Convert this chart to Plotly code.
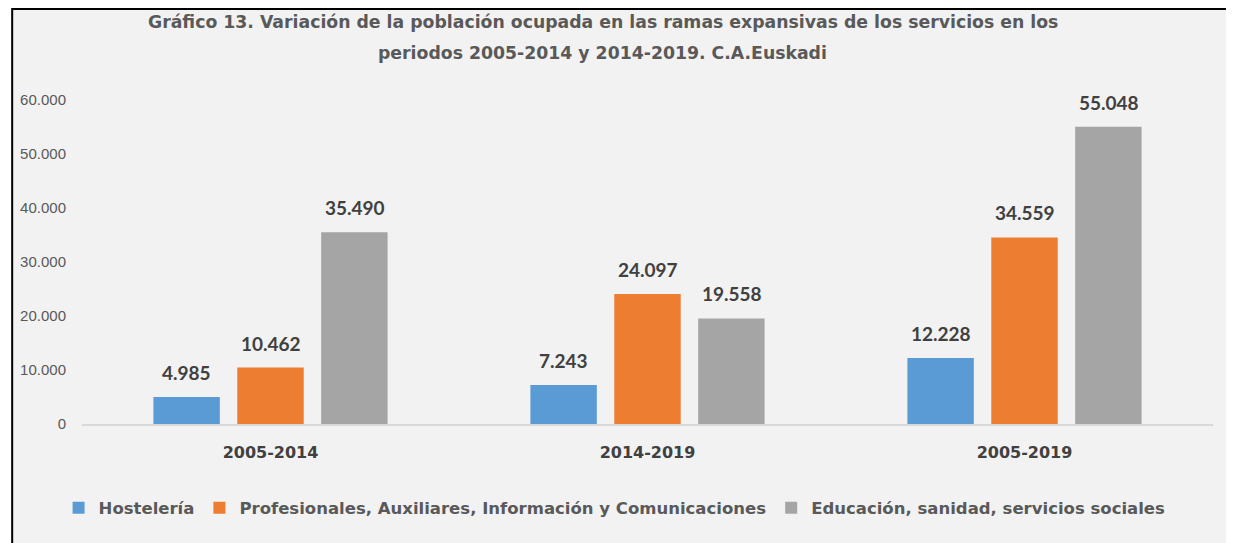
import plotly.graph_objects as go

categories = ["2005-2014", "2014-2019", "2005-2019"]
series_names = [
    "Hostelería",
    "Profesionales, Auxiliares, Información y Comunicaciones",
    "Educación, sanidad, servicios sociales",
]
hosteleria = [4985, 7243, 12228]
profesionales = [10462, 24097, 34559]
educacion = [35490, 19558, 55048]
y_ticks = [0, 10000, 20000, 30000, 40000, 50000, 60000]

series_values = [hosteleria, profesionales, educacion]
colors = ["#5B9BD5", "#ED7D31", "#A5A5A5"]

WIDE = "DejaVu Sans"
W, H = 1226, 535          # page body has an 8px margin
ML, MR, MT, MB = 71, 21, 92, 119
PW = W - ML - MR
PH = H - MT - MB

def px_to_paper_x(px):
    return (px - ML) / PW

def px_to_paper_y(py):
    return (H - MB - py) / PH

fig = go.Figure()
for i, (name, vals, col) in enumerate(zip(series_names, series_values, colors)):
    fig.add_trace(go.Bar(
        name=name, x=categories, y=vals,
        marker=dict(color=col, line=dict(width=0)),
    ))

def fmt(v):
    return f"{v:,}".replace(",", ".")

annotations = []
for i, vals in enumerate(series_values):
    for c, v in zip(categories, vals):
        annotations.append(dict(
            x=c, y=v, xref="x", yref="y", text=fmt(v), showarrow=False,
            yanchor="bottom", xanchor="center", xshift=(i - 1) * 84, yshift=11,
            font=dict(family="Lato", size=19, color="#404040", weight="bold"),
        ))

annotations.append(dict(
    text="Gráfico 13. Variación de la población ocupada en las ramas expansivas de los servicios en los",
    xref="paper", yref="paper", x=px_to_paper_x(593), y=px_to_paper_y(14),
    xanchor="center", yanchor="middle", showarrow=False,
    font=dict(family=WIDE, size=17.3, color="#595959", weight="bold"),
))
annotations.append(dict(
    text="periodos 2005-2014 y 2014-2019. C.A.Euskadi",
    xref="paper", yref="paper", x=px_to_paper_x(593), y=px_to_paper_y(45),
    xanchor="center", yanchor="middle", showarrow=False,
    font=dict(family=WIDE, size=17.3, color="#595959", weight="bold"),
))

shapes = [dict(
    type="rect", xref="paper", yref="paper", layer="below",
    x0=px_to_paper_x(1), x1=px_to_paper_x(1223),
    y0=px_to_paper_y(545), y1=px_to_paper_y(1),
    fillcolor="#F2F2F2", line=dict(color="#000000", width=2),
)]

fig.update_layout(
    width=W, height=H,
    margin=dict(l=ML, r=MR, t=MT, b=MB),
    paper_bgcolor="#FFFFFF",
    plot_bgcolor="rgba(0,0,0,0)",
    separators=",.",
    barmode="group",
    bargap=0.3325,
    bargroupgap=0.208,
    showlegend=True,
    legend=dict(
        orientation="h", x=px_to_paper_x(605), xanchor="center",
        y=px_to_paper_y(500), yanchor="middle",
        font=dict(family=WIDE, size=16.5, color="#595959", weight="bold"),
        bgcolor="rgba(0,0,0,0)", itemwidth=30,
    ),
    annotations=annotations,
    shapes=shapes,
    xaxis=dict(
        showgrid=False, showline=True, linecolor="#D9D9D9", linewidth=2,
        ticks="outside", ticklen=13, tickcolor="rgba(0,0,0,0)",
        tickfont=dict(family=WIDE, size=16, color="#404040", weight="bold"),
    ),
    yaxis=dict(
        range=[0, 60000], tickvals=y_ticks, tickformat=",d",
        showgrid=False, zeroline=False, showline=False,
        ticks="outside", ticklen=12, tickcolor="rgba(0,0,0,0)",
        tickfont=dict(family="Liberation Sans", size=15, color="#595959"),
    ),
)

fig.write_html("out.html")
